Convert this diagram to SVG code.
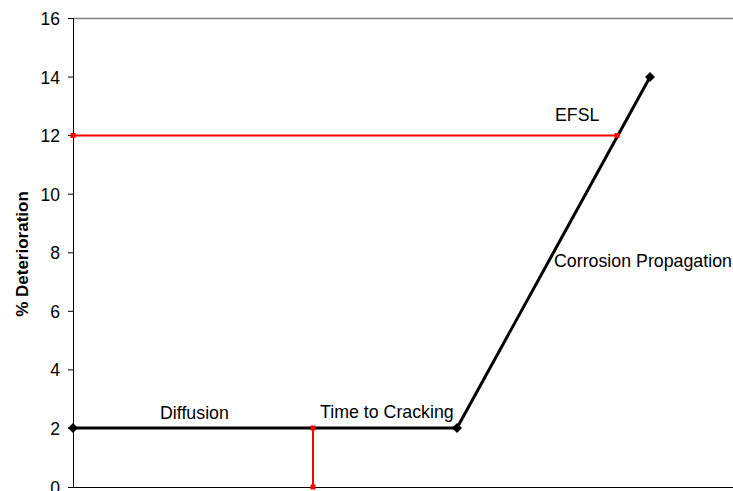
<svg xmlns="http://www.w3.org/2000/svg" width="733" height="491" viewBox="0 0 733 491">
<defs>
<style>
.t{font-family:"Liberation Sans",Arial,sans-serif;font-size:17.8px;fill:#000}
.tick{font-family:"Liberation Sans",Arial,sans-serif;font-size:17.5px;fill:#000;text-anchor:end}
.ax{stroke:#000;stroke-width:1;fill:none}
.blk{stroke:#000;stroke-width:3;fill:none}
.red{stroke:#ff0000;stroke-width:2;fill:none}
.dia{fill:#000}
.rsq{fill:#ff0000}
</style>
</defs>
<rect width="733" height="491" fill="#fff"/>
<g id="axes">
<line x1="73" y1="18.5" x2="733" y2="18.5" stroke="#808080" stroke-width="1.5"/>
<line class="ax" x1="73.5" y1="18" x2="73.5" y2="487"/>
<line class="ax" x1="73" y1="487.5" x2="733" y2="487.5"/>
<g class="ax">
<line x1="68" y1="18.5" x2="73" y2="18.5"/>
<line x1="68" y1="77.1" x2="73" y2="77.1"/>
<line x1="68" y1="135.6" x2="73" y2="135.6"/>
<line x1="68" y1="194.2" x2="73" y2="194.2"/>
<line x1="68" y1="252.8" x2="73" y2="252.8"/>
<line x1="68" y1="311.3" x2="73" y2="311.3"/>
<line x1="68" y1="369.9" x2="73" y2="369.9"/>
<line x1="68" y1="428.4" x2="73" y2="428.4"/>
<line x1="68" y1="487.5" x2="73" y2="487.5"/>
</g>
<text class="tick" x="60" y="25">16</text>
<text class="tick" x="60" y="84">14</text>
<text class="tick" x="60" y="142">12</text>
<text class="tick" x="60" y="201">10</text>
<text class="tick" x="60" y="259">8</text>
<text class="tick" x="60" y="318">6</text>
<text class="tick" x="60" y="376">4</text>
<text class="tick" x="60" y="435">2</text>
<text class="tick" x="60" y="494">0</text>
<text x="28" y="254" transform="rotate(-90 28 254)" text-anchor="middle" font-family="Liberation Sans,Arial,sans-serif" font-size="17" font-weight="bold">% Deterioration</text>
</g>
<g id="connectors">
<polyline class="blk" points="73,428 457,428 650,77"/>
<line class="red" x1="73" y1="135.5" x2="617" y2="135.5"/>
<line class="red" x1="313" y1="428" x2="313" y2="487"/>
</g>
<g id="markers">
<polygon class="dia" points="73,423 78,428 73,433 68,428"/>
<polygon class="dia" points="457,423 462,428 457,433 452,428"/>
<polygon class="dia" points="650,72 655,77 650,82 645,77"/>
<rect class="rsq" x="70.5" y="133" width="5" height="5"/>
<rect class="rsq" x="614.5" y="133" width="5" height="5"/>
<rect class="rsq" x="310.5" y="425.5" width="5" height="5"/>
<rect class="rsq" x="310.5" y="484.5" width="5" height="5"/>
</g>
<g id="labels">
<text class="t" x="160" y="419">Diffusion</text>
<text class="t" x="320" y="418">Time to Cracking</text>
<text class="t" x="555" y="121">EFSL</text>
<text class="t" x="554" y="267">Corrosion Propagation</text>
</g>
</svg>
